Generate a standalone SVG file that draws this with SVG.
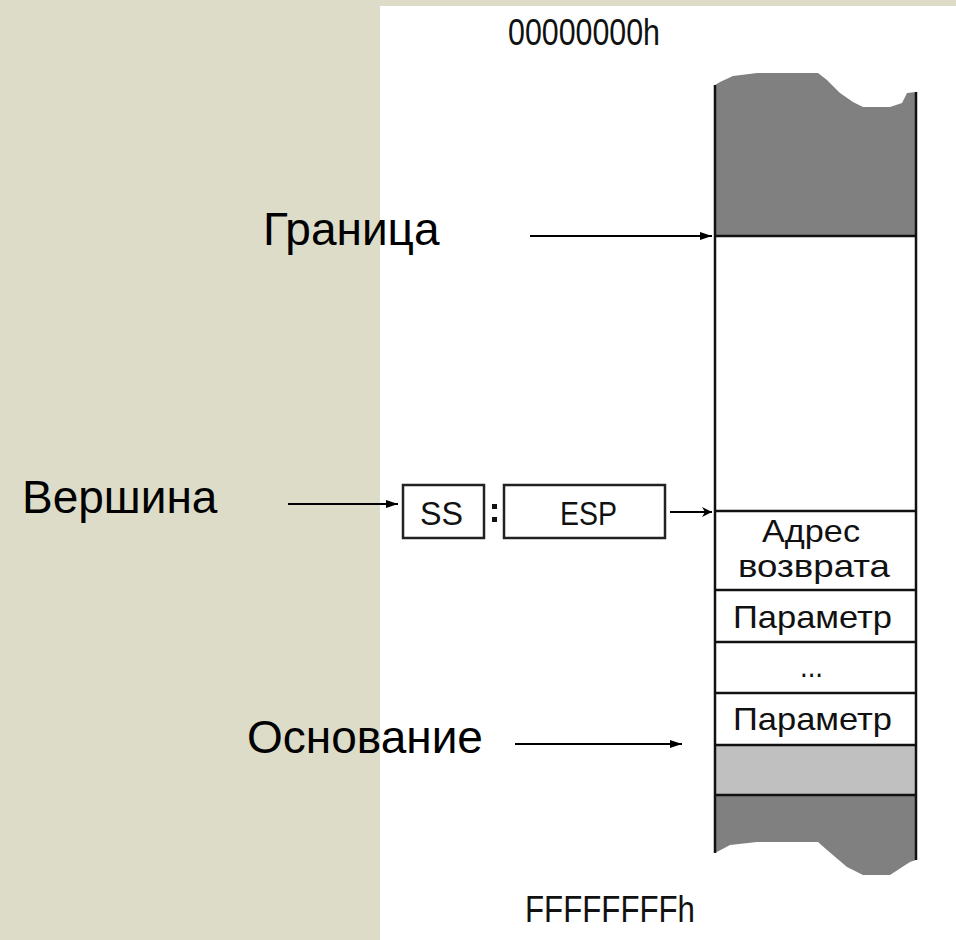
<svg xmlns="http://www.w3.org/2000/svg" width="956" height="940" viewBox="0 0 956 940">
  <defs>
    <marker id="head" viewBox="0 0 12 8" refX="12" refY="4" markerWidth="12" markerHeight="8" markerUnits="userSpaceOnUse" orient="auto">
      <path d="M0,0 L12,4 L0,8 Z" fill="#000"/>
    </marker>
    <marker id="headSmall" viewBox="0 0 10 10" refX="10" refY="5" markerWidth="10" markerHeight="10" markerUnits="userSpaceOnUse" orient="auto">
      <path d="M0,0 L10,5 L0,10 L3,5 Z" fill="#000"/>
    </marker>
  </defs>
  <style>
    .label { font-family: "Liberation Sans", Arial, sans-serif; font-size: 46px; fill: #000; }
    .mem { font-family: "Liberation Sans", Arial, sans-serif; font-size: 32px; fill: #111; }
    .addr { font-family: "Liberation Sans", Arial, sans-serif; font-size: 36px; fill: #111; }
    .regtext { font-family: "Liberation Sans", Arial, sans-serif; font-size: 34px; fill: #111; }
    .edge { stroke: #000; stroke-width: 2; fill: none; }
    .cellLine { stroke: #111; stroke-width: 2.5; fill: none; }
    .reg { fill: #fff; stroke: #222; stroke-width: 2.5; }
  </style>

  <!-- slide background -->
  <rect x="0" y="0" width="956" height="940" fill="#dcdcc8"/>
  <rect x="380" y="6" width="576" height="934" fill="#fff"/>

  <!-- address labels -->
  <text class="addr" x="508" y="45" textLength="152" lengthAdjust="spacingAndGlyphs">00000000h</text>
  <text class="addr" x="525" y="922" textLength="170" lengthAdjust="spacingAndGlyphs">FFFFFFFFh</text>

  <!-- stack segment column -->
  <g id="stack">
    <path d="M715,85 L720,82 L733,76 L757,73 L818,73 L827,80 L840,93 L853,102 L863,107 L890,107 L902,103 L907,93 L916,92 L916,236 L715,236 Z" fill="#808080"/>
    <rect x="715" y="236" width="201" height="509" fill="#fff"/>
    <rect x="715" y="745" width="201" height="50" fill="#c0c0c0"/>
    <path d="M715,795 L916,795 L916,860 L910,862 L890,875 L863,875 L847,867 L827,850 L818,842 L757,842 L730,845 L715,853 Z" fill="#808080"/>
    <line class="cellLine" x1="715" y1="85" x2="715" y2="853"/>
    <line class="cellLine" x1="916" y1="92" x2="916" y2="860"/>
    <line class="cellLine" x1="715" y1="236" x2="916" y2="236"/>
    <line class="cellLine" x1="715" y1="511" x2="916" y2="511"/>
    <line class="cellLine" x1="715" y1="590" x2="916" y2="590"/>
    <line class="cellLine" x1="715" y1="642" x2="916" y2="642"/>
    <line class="cellLine" x1="715" y1="693" x2="916" y2="693"/>
    <line class="cellLine" x1="715" y1="745" x2="916" y2="745"/>
    <line class="cellLine" x1="715" y1="795" x2="916" y2="795"/>
    <text class="mem" x="762" y="542" textLength="98" lengthAdjust="spacingAndGlyphs">Адрес</text>
    <text class="mem" x="738" y="577" textLength="152" lengthAdjust="spacingAndGlyphs">возврата</text>
    <text class="mem" x="733" y="628" textLength="159" lengthAdjust="spacingAndGlyphs">Параметр</text>
    <text class="mem" x="800" y="677" textLength="23" lengthAdjust="spacingAndGlyphs">...</text>
    <text class="mem" x="733" y="730" textLength="159" lengthAdjust="spacingAndGlyphs">Параметр</text>
  </g>

  <!-- SS:ESP register pair -->
  <g id="ss">
    <rect class="reg" x="403" y="485" width="81" height="53"/>
    <text class="regtext" x="420" y="525" textLength="43" lengthAdjust="spacingAndGlyphs">SS</text>
  </g>
  <g id="colon">
    <rect x="492" y="504" width="5" height="5" fill="#111"/>
    <rect x="492" y="517" width="5" height="5" fill="#111"/>
  </g>
  <g id="esp">
    <rect class="reg" x="504" y="485" width="161" height="53"/>
    <text class="regtext" x="560" y="525" textLength="57" lengthAdjust="spacingAndGlyphs">ESP</text>
  </g>

  <!-- side labels -->
  <g id="limit"><text class="label" x="263" y="245">Граница</text></g>
  <g id="top"><text class="label" x="22" y="513">Вершина</text></g>
  <g id="base"><text class="label" x="247" y="753">Основание</text></g>

  <!-- connectors -->
  <g id="connectors">
    <line class="edge" x1="530" y1="236" x2="712" y2="236" marker-end="url(#head)"/>
    <line class="edge" x1="288" y1="504" x2="398" y2="504" marker-end="url(#head)"/>
    <line class="edge" x1="670" y1="512" x2="712" y2="512" marker-end="url(#headSmall)"/>
    <line class="edge" x1="515" y1="744" x2="682" y2="744" marker-end="url(#head)"/>
  </g>
</svg>
